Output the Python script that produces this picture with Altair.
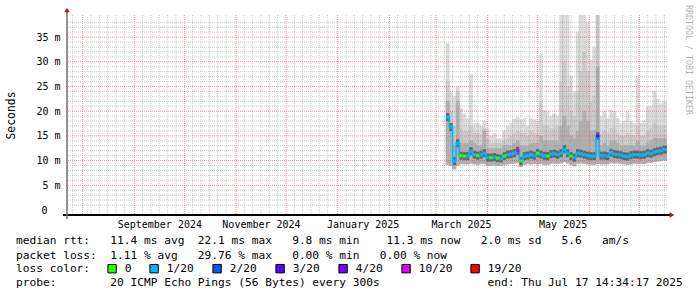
import altair as alt
import pandas as pd

MONO = "DejaVu Sans Mono"

# ---------------- data ----------------
END = pd.Timestamp("2025-07-17 14:34:17")
BEGIN = END - pd.Timedelta(days=360)
FIRST = pd.Timestamp("2025-03-07 00:00:00")

# median rtt (ms) per 2-day step from 2025-03-07
med = [18.8, 16.8, 9.9, 13.5, 11.0, 10.9, 10.9, 11.9, 11.2, 11.0,
       11.2, 11.5, 10.6, 10.6, 10.7, 10.5, 10.4, 10.9, 11.2, 11.3,
       11.5, 12.0, 9.9, 10.9, 11.0, 11.2, 11.0, 11.5, 11.2, 11.0,
       10.9, 11.3, 11.4, 11.2, 11.5, 12.3, 11.5, 10.9, 10.6, 11.5,
       11.4, 11.2, 11.0, 10.9, 10.9, 15.0, 11.0, 11.0, 10.9, 11.6,
       11.3, 11.2, 11.1, 10.9, 10.8, 11.1, 11.2, 11.2, 11.1, 11.2,
       11.5, 11.4, 11.7, 11.9, 12.0, 12.2]
# highest ping (outer smoke)
top = [33.7, 24.0, 23.0, 25.0, 20.5, 19.5, 18.5, 27.5, 17.5, 17.5,
       17.0, 18.0, 16.5, 15.0, 15.5, 14.5, 14.5, 16.0, 17.0, 17.5,
       18.5, 18.8, 18.3, 18.5, 17.0, 18.5, 18.3, 18.0, 31.7, 20.2,
       20.0, 19.0, 19.5, 19.0, 40.0, 40.0, 40.0, 27.0, 24.0, 36.0,
       40.0, 40.0, 38.0, 30.4, 33.0, 40.0, 19.0, 20.0, 18.5, 20.2,
       20.0, 18.5, 17.5, 18.0, 20.0, 18.0, 17.5, 26.9, 17.5, 18.0,
       20.8, 21.0, 24.0, 22.5, 21.5, 22.0]
# upper edge of the second smoke band
p80 = [26.0, 20.0, 17.0, 24.0, 16.5, 16.0, 16.0, 17.0, 15.5, 15.5,
       15.0, 16.5, 14.5, 13.5, 13.5, 13.5, 13.5, 14.0, 14.5, 15.0,
       15.5, 16.0, 15.5, 15.5, 15.0, 16.0, 15.5, 15.5, 22.0, 17.0,
       17.0, 16.5, 16.5, 17.0, 26.0, 30.0, 25.0, 20.0, 19.0, 24.0,
       28.0, 32.0, 28.0, 22.0, 23.0, 40.0, 15.5, 16.0, 15.5, 16.5,
       16.5, 15.5, 15.0, 15.0, 15.5, 15.0, 15.0, 17.0, 15.0, 15.0,
       16.0, 16.5, 17.5, 17.0, 17.0, 17.0]
# upper edge of the third smoke band
p65 = [22.0, 16.0, 13.0, 22.0, 13.5, 13.5, 13.5, 14.0, 13.5, 13.0,
       13.0, 16.0, 12.5, 12.5, 12.5, 12.5, 12.5, 13.0, 13.0, 13.0,
       13.5, 14.0, 13.0, 13.0, 13.0, 13.5, 13.5, 13.5, 15.0, 14.0,
       14.0, 14.0, 14.0, 14.0, 17.0, 19.0, 17.0, 15.0, 14.5, 16.0,
       18.0, 20.0, 18.0, 16.0, 16.0, 29.0, 13.0, 13.5, 13.0, 14.0,
       14.0, 13.5, 13.0, 13.0, 13.0, 13.0, 13.0, 14.0, 13.0, 13.0,
       13.5, 14.0, 14.5, 14.5, 14.5, 14.5]
# lowest ping
lo = [9.2, 9.0, 8.3, 9.0, 9.4, 9.3, 9.3, 9.5, 9.3, 9.2,
      9.4, 9.4, 9.0, 9.0, 9.1, 9.0, 9.0, 9.2, 9.3, 9.4,
      9.5, 9.6, 8.8, 9.2, 9.4, 9.3, 9.4, 9.3, 9.4, 9.2,
      9.2, 9.4, 9.5, 9.4, 9.5, 9.8, 9.5, 9.2, 8.9, 9.4,
      9.5, 9.4, 9.3, 9.2, 9.2, 9.4, 9.3, 9.3, 9.3, 9.6,
      9.5, 9.5, 9.4, 9.3, 9.2, 9.3, 9.4, 9.4, 9.4, 9.4,
      9.6, 9.6, 9.8, 9.9, 10.0, 10.1]
loss = ["1/20", "1/20", "1/20", "1/20", "0", "0", "1/20", "1/20", "1/20", "0",
        "1/20", "1/20", "1/20", "0", "1/20", "0", "1/20", "0", "1/20", "1/20",
        "1/20", "10/20", "0", "1/20", "1/20", "1/20", "1/20", "0", "1/20", "1/20",
        "0", "1/20", "1/20", "1/20", "1/20", "1/20", "1/20", "0", "1/20", "1/20",
        "1/20", "1/20", "1/20", "1/20", "1/20", "3/20", "1/20", "1/20", "1/20", "1/20",
        "1/20", "1/20", "1/20", "1/20", "1/20", "1/20", "1/20", "1/20", "1/20", "1/20",
        "1/20", "1/20", "1/20", "1/20", "1/20", "1/20"]

loss_labels = ["0", "1/20", "2/20", "3/20", "4/20", "10/20", "19/20"]
loss_colors = ["#26ff00", "#00b8ff", "#0059ff", "#5e00ff", "#7e00ff", "#dd00ff", "#ff0000"]

y_ticks = [0, 5, 10, 15, 20, 25, 30, 35]
label_months = [(2024, 9), (2024, 11), (2025, 1), (2025, 3), (2025, 5)]

line_rtt = "median rtt:   11.4 ms avg  22.1 ms max   9.8 ms min    11.3 ms now   2.0 ms sd   5.6   am/s"
line_loss = "packet loss:  1.11 % avg   29.76 % max   0.00 % min   0.00 % now"
line_probe = "probe:        20 ICMP Echo Pings (56 Bytes) every 300s                end: Thu Jul 17 14:34:17 2025"
watermark = "RRDTOOL / TOBI OETIKER"

# ---------------- tables ----------------
dates = pd.date_range(FIRST, periods=len(med), freq="2D")
t_end = list(dates[1:]) + [END]
df = pd.DataFrame({"t": dates, "t2": t_end, "med": med, "top": top,
                   "p80": p80, "p65": p65, "lo": lo, "loss": loss})

month_starts = [d for d in pd.date_range("2024-07-01", "2025-07-01", freq="MS") if BEGIN < d < END]
minor_days = [pd.Timestamp(m.year, m.month, d)
              for m in pd.date_range("2024-07-01", "2025-07-01", freq="MS")
              for d in (6, 11, 16, 21, 26)]
minor_days = [d for d in minor_days if BEGIN < d < END]
h_minor = [v for v in range(1, 39) if v % 5]
h_major = [v for v in y_ticks if v > 0]


def dt(ts):
    return alt.DateTime(year=ts.year, month=ts.month, date=ts.day,
                        hours=ts.hour, minutes=ts.minute, seconds=ts.second)


NB = "\u00a0"
xs = alt.Scale(domain=[dt(BEGIN), dt(END)])
ys = alt.Scale(domain=[0, 38.46], nice=False, zero=True)

x_axis = alt.Axis(values=[alt.DateTime(year=y, month=m, date=16) for y, m in label_months],
                  format="%B %Y", grid=False, ticks=False, domain=False,
                  labelFont=MONO, labelFontSize=10, labelColor="black",
                  labelPadding=4, labelFlush=False, labelOverlap=False, title=None)
y_axis = alt.Axis(values=y_ticks, tickCount=8,
                  labelExpr="datum.value == 0 ? '0' : datum.value + ' m'",
                  grid=False, ticks=False, domain=False, labelOverlap=False, labelBound=False,
                  labelFont=MONO, labelFontSize=10, labelColor="black",
                  labelPadding={"condition": {"test": "datum.value == 0", "value": 20}, "value": 7},
                  title="Seconds", titleFont=MONO, titleFontSize=11.4,
                  titleFontWeight="normal", titleColor="black", titlePadding=19)

base = alt.Chart(df)
X = alt.X("t:T", scale=xs, axis=x_axis)


def Y(field):
    return alt.Y(field, scale=ys, axis=y_axis)


band_top = base.mark_bar(fill="#dcdcdc", stroke="#dcdcdc", strokeWidth=0.5, clip=True).encode(
    x=X, x2="t2:T", y=Y("lo:Q"), y2="top:Q")
band_80 = base.mark_bar(fill="#cbcbcb", stroke="#cbcbcb", strokeWidth=0.5, clip=True).encode(
    x=X, x2="t2:T", y=Y("lo:Q"), y2="p80:Q")
band_65 = base.mark_bar(fill="#b0b0b0", stroke="#b0b0b0", strokeWidth=0.5, clip=True).encode(
    x=X, x2="t2:T", y=Y("lo:Q"), y2="p65:Q")

vgrid_minor = alt.Chart(pd.DataFrame({"t": minor_days})).mark_rule(
    color="#8c8c8c", opacity=0.45, strokeDash=[1, 1], strokeWidth=1).encode(x=X)
vgrid_major = alt.Chart(pd.DataFrame({"t": month_starts})).mark_rule(
    color="#e05050", opacity=0.6, strokeDash=[1, 1], strokeWidth=1).encode(x=X)
hgrid_minor = alt.Chart(pd.DataFrame({"v": h_minor})).mark_rule(
    color="#8c8c8c", opacity=0.45, strokeDash=[1, 1], strokeWidth=1).encode(y=Y("v:Q"))
hgrid_major = alt.Chart(pd.DataFrame({"v": h_major})).mark_rule(
    color="#e05050", opacity=0.6, strokeDash=[1, 1], strokeWidth=1).encode(y=Y("v:Q"))

core = base.mark_bar(color="#666666", orient="horizontal", clip=True).encode(
    x=X, x2="t2:T", y=Y("med:Q"), size=alt.value(8))
conn = base.mark_line(interpolate="step-after", color="#00b8ff", strokeWidth=1.5, clip=True).encode(
    x=X, y=Y("med:Q"))
median = base.mark_bar(orient="horizontal", clip=True).encode(
    x=X, x2="t2:T", y=Y("med:Q"), size=alt.value(3),
    color=alt.Color("loss:N", scale=alt.Scale(domain=loss_labels, range=loss_colors),
                    legend=alt.Legend(orient="none", legendX=-51, legendY=248,
                                      direction="horizontal", title="loss color:",
                                      titleOrient="left", titleFont=MONO, titleFontSize=11.2,
                                      titleFontWeight="normal", titleColor="black",
                                      titlePadding=15.5, titleBaseline="middle",
                                      labelFont=MONO, labelFontSize=11.2, labelColor="black",
                                      labelOffset=7, columnPadding=16, symbolType="square",
                                      symbolSize=70, symbolStrokeColor="black",
                                      symbolStrokeWidth=1, symbolOpacity=1, padding=0)))

ann = pd.DataFrame({"k": [0]})
xaxis_line = alt.Chart(ann).mark_rule(color="black", strokeWidth=2).encode(
    x=alt.value(-4), x2=alt.value(603), y=alt.value(200))
yaxis_line = alt.Chart(ann).mark_rule(color="#707070", strokeWidth=1.5).encode(
    x=alt.value(0), y=alt.value(-3), y2=alt.value(204))
arrow_up = alt.Chart(ann).mark_point(shape="triangle-up", filled=True, size=30,
                                     color="#a01818", opacity=1).encode(
    x=alt.value(0), y=alt.value(-5))
arrow_right = alt.Chart(ann).mark_point(shape="triangle-right", filled=True, size=30,
                                        color="#a01818", opacity=1).encode(
    x=alt.value(605), y=alt.value(200))


def text_line(s, y):
    return alt.Chart(pd.DataFrame({"s": [s.replace(" ", NB)]})).mark_text(
        align="left", baseline="middle", font=MONO, fontSize=11.2, color="black").encode(
        text="s:N", x=alt.value(-51), y=alt.value(y))


wm = alt.Chart(pd.DataFrame({"s": [watermark]})).mark_text(
    align="left", baseline="middle", angle=90, font=MONO, fontSize=8.3, color="#b0b0b0").encode(
    text="s:N", x=alt.value(620.5), y=alt.value(-10))

chart = alt.layer(
    band_top, band_80, band_65,
    vgrid_minor, vgrid_major, hgrid_minor, hgrid_major,
    core, conn, median,
    xaxis_line, yaxis_line, arrow_up, arrow_right,
    text_line(line_rtt, 226), text_line(line_loss, 241), text_line(line_probe, 268),
    wm,
).properties(
    width=600, height=200,
    padding={"left": 67, "top": 15, "right": 30, "bottom": 82},
    autosize=alt.AutoSizeParams(type="none"),
    background="white",
).configure_view(strokeWidth=0)

chart.save("out.html", embed_options={"renderer": "svg", "actions": False})
